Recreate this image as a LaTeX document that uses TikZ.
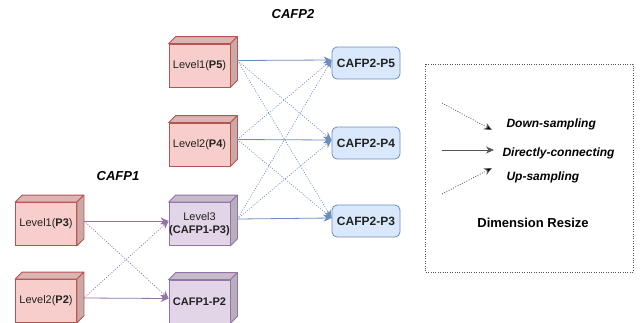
\documentclass[tikz,border=0pt]{standalone}
\usepackage{fontspec}
\setmainfont{Liberation Sans}
\usetikzlibrary{arrows.meta}
\definecolor{redfill}{HTML}{F8CECC}
\definecolor{redline}{HTML}{B85450}
\definecolor{purfill}{HTML}{E1D5E7}
\definecolor{purline}{HTML}{9673A6}
\definecolor{bluefill}{HTML}{DAE8FC}
\definecolor{blueline}{HTML}{6C8EBF}
\definecolor{legline}{HTML}{555555}
\definecolor{txt}{HTML}{222222}
\newcommand{\mycube}[5]{%
  \node[frontface, fill=#3, draw=#4] (#1) at (#2) {#5};
  \draw[line width=0.8pt, fill=#3!88!black, draw=#4, line join=round]
    (#1.north west) -- ++(7,-7) -- ([shift={(7,-7)}]#1.north east) -- (#1.north east) -- cycle;
  \draw[line width=0.8pt, fill=#3!82!black, draw=#4, line join=round]
    (#1.north east) -- ++(7,-7) -- ([shift={(7,-7)}]#1.south east) -- (#1.south east) -- cycle;
}
\begin{document}
\begin{tikzpicture}[x=1pt,y=-1pt,
  frontface/.style={rectangle, minimum width=61pt, minimum height=43pt, inner sep=0pt,
    line width=0.8pt, align=center, text=txt, font=\fontsize{11}{13}\selectfont},
  bluebox/.style={rectangle, rounded corners=5pt, fill=bluefill, draw=blueline, line width=0.8pt,
    minimum width=68pt, minimum height=32pt, inner sep=0pt, text=txt, font=\fontsize{12}{14}\selectfont\bfseries},
  bsolid/.style={draw=blueline, line width=0.8pt, arrows={-{Stealth[length=8pt,width=7pt,inset=2.5pt]}}},
  bdot/.style={draw=blueline, line width=0.7pt, dash pattern=on 1pt off 1.5pt, arrows={-{Stealth[length=8pt,width=7pt,inset=2.5pt,fill=blueline]}}},
  psolid/.style={draw=purline, line width=0.8pt, arrows={-{Stealth[length=8pt,width=7pt,inset=2.5pt]}}},
  pdot/.style={draw=purline, line width=0.7pt, dash pattern=on 1pt off 1.5pt, arrows={-{Stealth[length=8pt,width=7pt,inset=2.5pt,fill=purline]}}},
  title/.style={font=\fontsize{13}{15}\selectfont\bfseries\itshape},
  legtext/.style={anchor=west, font=\fontsize{12}{14}\selectfont\bfseries\itshape},
  ]
\useasboundingbox (0,0) rectangle (642,322);

% titles
\node[title] (t2) at (293,14) {CAFP2};
\node[title] (t1) at (118,176) {CAFP1};

% cubes
\mycube{lp5}{199.5,65.5}{redfill}{redline}{Level1(\textbf{P5})}
\mycube{lp4}{199.5,144.5}{redfill}{redline}{Level2(\textbf{P4})}
\mycube{lp3}{199.5,224}{purfill}{purline}{Level3\\\textbf{(CAFP1-P3)}}
\mycube{cp2}{199.5,301.5}{purfill}{purline}{\textbf{CAFP1-P2}}
\mycube{ap3}{46,224}{redfill}{redline}{Level1(\textbf{P3})}
\mycube{ap2}{46,301}{redfill}{redline}{Level2(\textbf{P2})}

% blue boxes
\node[bluebox] (o5) at (366,63) {CAFP2-P5};
\node[bluebox] (o4) at (366,143) {CAFP2-P4};
\node[bluebox] (o3) at (366,221) {CAFP2-P3};

% CAFP2 connections
\draw[bsolid] ([shift={(7,-5)}]lp5.east) -- ([shift={(0,-3)}]o5.west);
\draw[bsolid] ([shift={(7,-5)}]lp4.east) -- ([shift={(0,-3)}]o4.west);
\draw[bsolid] ([shift={(7,-5)}]lp3.east) -- ([shift={(0,-3)}]o3.west);
\draw[bdot] ([shift={(7,-5)}]lp5.east) -- ([shift={(0,-3)}]o4.west);
\draw[bdot] ([shift={(7,-5)}]lp5.east) -- ([shift={(0,-3)}]o3.west);
\draw[bdot] ([shift={(7,-5)}]lp4.east) -- ([shift={(0,-3)}]o5.west);
\draw[bdot] ([shift={(7,-5)}]lp4.east) -- ([shift={(0,-3)}]o3.west);
\draw[bdot] ([shift={(7,-5)}]lp3.east) -- ([shift={(0,-3)}]o5.west);
\draw[bdot] ([shift={(7,-5)}]lp3.east) -- ([shift={(0,-3)}]o4.west);

% CAFP1 connections
\draw[psolid] ([shift={(7,-3)}]ap3.east) -- ([shift={(0,-3)}]lp3.west);
\draw[psolid] ([shift={(7,-3)}]ap2.east) -- ([shift={(0,-3)}]cp2.west);
\draw[pdot] ([shift={(7,-3)}]ap3.east) -- ([shift={(0,-3)}]cp2.west);
\draw[pdot] ([shift={(7,-3)}]ap2.east) -- ([shift={(0,-3)}]lp3.west);

% legend
\draw[legline, line width=0.8pt, dash pattern=on 0.8pt off 1.6pt] (425,64) rectangle (633,272);
\coordinate (d1) at (442,103); \coordinate (d2) at (492,130);
\coordinate (s1) at (442,150); \coordinate (s2) at (494,150);
\coordinate (u1) at (442,194); \coordinate (u2) at (492,168);
\draw[legline, line width=0.7pt, dash pattern=on 1pt off 1.5pt, arrows={-{Stealth[length=8pt,width=7pt,inset=2.5pt,fill=black]}}] (d1) -- (d2);
\draw[legline, line width=0.8pt, arrows={-{Stealth[length=8pt,width=7pt,inset=2.5pt]}}] (s1) -- (s2);
\draw[legline, line width=0.7pt, dash pattern=on 1pt off 1.5pt, arrows={-{Stealth[length=8pt,width=7pt,inset=2.5pt,fill=black]}}] (u1) -- (u2);
\node[legtext] (ld) at (503,124) {Down-sampling};
\node[legtext] (ls) at (499,153) {Directly-connecting};
\node[legtext] (lu) at (503,177) {Up-sampling};
\node[font=\fontsize{13}{15}\selectfont\bfseries] (dr) at (533,223) {Dimension Resize};
\end{tikzpicture}
\end{document}
